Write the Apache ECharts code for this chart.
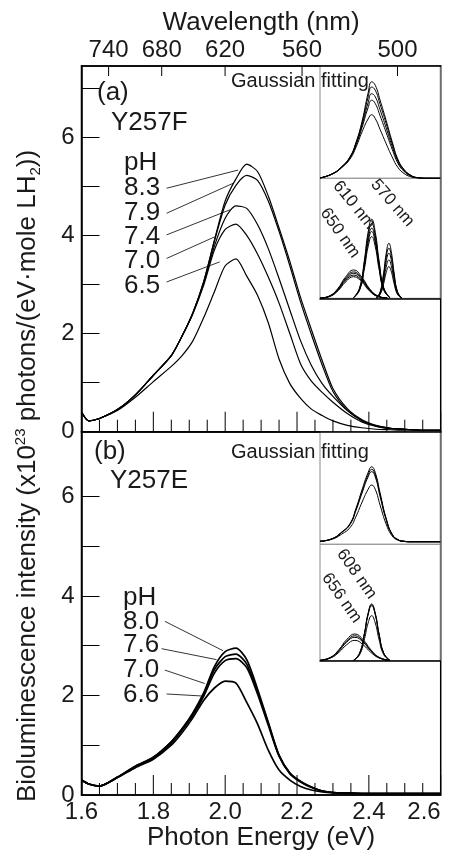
<!DOCTYPE html>
<html><head><meta charset="utf-8">
<script src="https://cdn.jsdelivr.net/npm/echarts@6/dist/echarts.min.js"></script>
<style>html,body{margin:0;padding:0;background:#fff}#c{width:455px;height:855px}</style>
</head><body><div id="c"></div>
<script>
// ---------- data ----------
const energy = [1.60,1.62,1.65,1.70,1.75,1.80,1.85,1.88,1.91,1.94,1.97,2.00,2.03,2.06,2.09,2.12,2.15,2.18,2.21,2.24,2.27,2.30,2.34,2.38,2.42,2.46,2.50,2.55,2.60];
const pH_F = ['8.3','7.9','7.4','7.0','6.5'];
const F83 = [0.40,0.22,0.27,0.45,0.75,1.15,1.55,1.95,2.42,3.05,3.90,4.70,5.15,5.45,5.30,4.80,4.15,3.47,2.73,2.08,1.45,0.88,0.47,0.25,0.13,0.07,0.05,0.03,0.03];
const F79 = [0.40,0.22,0.27,0.45,0.75,1.15,1.55,1.95,2.42,3.05,3.88,4.62,5.02,5.22,5.12,4.70,4.08,3.38,2.64,1.98,1.36,0.82,0.44,0.23,0.12,0.07,0.05,0.03,0.03];
const F74 = [0.40,0.22,0.27,0.45,0.75,1.15,1.55,1.95,2.42,3.02,3.78,4.35,4.60,4.55,4.22,3.73,3.12,2.48,1.85,1.35,0.98,0.72,0.43,0.23,0.12,0.07,0.05,0.03,0.03];
const F70 = [0.40,0.22,0.27,0.45,0.75,1.15,1.55,1.95,2.40,2.98,3.70,4.12,4.23,4.00,3.62,3.15,2.62,2.00,1.38,1.03,0.80,0.60,0.37,0.20,0.11,0.06,0.05,0.03,0.03];
const F65 = [0.40,0.22,0.27,0.43,0.70,1.02,1.33,1.55,1.85,2.32,2.85,3.38,3.52,3.17,2.78,2.22,1.48,0.98,0.68,0.46,0.33,0.22,0.13,0.08,0.05,0.04,0.03,0.03,0.03];
const pH_E = ['8.0','7.6','7.0','6.6'];
const E80 = [0.30,0.22,0.18,0.36,0.58,0.76,1.07,1.33,1.65,2.05,2.58,2.88,2.95,2.72,2.13,1.46,0.80,0.44,0.27,0.16,0.08,0.05,0.04,0.03,0.03,0.03,0.03,0.03,0.03];
const E76 = [0.30,0.22,0.18,0.36,0.58,0.76,1.07,1.33,1.63,2.02,2.52,2.78,2.83,2.63,2.08,1.44,0.79,0.44,0.27,0.16,0.08,0.05,0.04,0.03,0.03,0.03,0.03,0.03,0.03];
const E70 = [0.30,0.22,0.18,0.35,0.56,0.74,1.04,1.30,1.60,1.98,2.45,2.70,2.74,2.56,2.03,1.40,0.78,0.43,0.26,0.15,0.08,0.05,0.04,0.03,0.03,0.03,0.03,0.03,0.03];
const E66 = [0.30,0.22,0.18,0.35,0.55,0.72,1.00,1.25,1.55,1.90,2.15,2.29,2.25,1.86,1.43,0.90,0.50,0.30,0.17,0.10,0.06,0.04,0.03,0.03,0.03,0.03,0.03,0.03,0.03];

const wavelengthTicks = [740,680,620,560,500];
const xMajorTicks = [1.6,1.8,2.0,2.2,2.4,2.6];
const xMinorTicks = [1.65,1.70,1.75,1.85,1.90,1.95,2.05,2.10,2.15,2.25,2.30,2.35,2.45,2.50,2.55];
const yTicksTop = [0,1,2,3,4,5,6,7];
const yTicksBottom = [0,1,2,3,4,5,6];
const yLabels = [0,2,4,6];

// leader lines [E1, v1, E2, v2]
const leadersF = [[1.837,4.96,2.036,5.33],[1.837,4.45,2.022,5.06],[1.837,4.01,2.013,4.52],[1.837,3.53,1.971,3.97],[1.837,3.05,1.985,3.46]];
const leadersE = [[1.832,3.49,1.994,2.90],[1.823,2.94,1.976,2.72],[1.832,2.51,1.943,2.24],[1.837,2.03,1.934,1.99]];

// insets: Gaussian fitting sums
const insetE = [1.60,1.70,1.78,1.85,1.90,1.95,2.00,2.03,2.06,2.10,2.15,2.20,2.25,2.30,2.35,2.40,2.50,2.60];
const fitF = [
  [0.02,0.25,0.65,1.23,2.05,3.25,4.85,5.50,5.30,4.45,3.30,2.10,1.05,0.50,0.20,0.05,0,0],
  [0.02,0.25,0.65,1.22,2.02,3.15,4.62,5.20,5.02,4.22,3.13,1.99,1.00,0.47,0.19,0.05,0,0],
  [0.02,0.24,0.64,1.20,1.96,3.02,4.30,4.82,4.64,3.90,2.88,1.83,0.92,0.43,0.17,0.04,0,0],
  [0.02,0.24,0.63,1.17,1.90,2.90,4.02,4.45,4.26,3.56,2.62,1.66,0.83,0.39,0.15,0.04,0,0],
  [0.02,0.23,0.60,1.10,1.78,2.65,3.38,3.62,3.40,2.78,1.98,1.22,0.60,0.27,0.10,0.03,0,0]
];
const fitE = [
  [0.02,0.12,0.38,0.72,1.32,2.05,2.72,2.95,2.72,1.92,0.93,0.30,0.08,0.02,0,0,0,0],
  [0.02,0.12,0.37,0.70,1.28,1.98,2.63,2.85,2.63,1.84,0.90,0.29,0.08,0.02,0,0,0,0],
  [0.02,0.11,0.36,0.68,1.24,1.92,2.55,2.76,2.55,1.78,0.87,0.28,0.07,0.02,0,0,0,0],
  [0.02,0.10,0.30,0.56,1.00,1.56,2.06,2.23,2.06,1.44,0.70,0.23,0.06,0.01,0,0,0,0]
];
// components
const compE650 = [1.60,1.68,1.75,1.81,1.88,1.95,2.01,2.08,2.16];
const comp650 = [
  [0.01,0.14,0.57,1.19,1.61,1.19,0.57,0.14,0.01],
  [0.01,0.13,0.53,1.11,1.50,1.11,0.53,0.13,0.01],
  [0.01,0.12,0.50,1.05,1.42,1.05,0.50,0.12,0.01],
  [0.01,0.11,0.46,0.98,1.32,0.98,0.46,0.11,0.01],
  [0.01,0.10,0.43,0.91,1.23,0.91,0.43,0.10,0.01]
];
const compE610 = [1.88,1.93,1.97,2.00,2.03,2.06,2.09,2.13,2.18];
const comp610 = [
  [0.05,0.60,2.20,3.75,4.50,3.75,2.20,0.60,0.05],
  [0.05,0.58,2.08,3.56,4.27,3.56,2.08,0.58,0.05],
  [0.04,0.54,1.94,3.33,3.99,3.33,1.94,0.54,0.04],
  [0.04,0.51,1.85,3.17,3.80,3.17,1.85,0.51,0.04],
  [0.04,0.47,1.71,2.93,3.51,2.93,1.71,0.47,0.04]
];
const compE570 = [2.07,2.10,2.13,2.15,2.173,2.195,2.215,2.245,2.28];
const comp570 = [
  [0.04,0.36,1.47,2.52,3.13,2.57,1.52,0.38,0.03],
  [0.04,0.32,1.34,2.30,2.85,2.34,1.39,0.34,0.03],
  [0.03,0.29,1.20,2.06,2.56,2.10,1.25,0.31,0.02],
  [0.03,0.25,1.02,1.76,2.18,1.79,1.06,0.26,0.02],
  [0.02,0.21,0.85,1.45,1.80,1.48,0.88,0.22,0.02]
];
const compE656 = [1.60,1.69,1.76,1.82,1.89,1.96,2.02,2.09,2.18];
const comp656 = [
  [0.02,0.14,0.45,0.82,1.05,0.82,0.45,0.14,0.02],
  [0.01,0.13,0.42,0.76,0.98,0.76,0.42,0.13,0.01],
  [0.01,0.12,0.40,0.72,0.92,0.72,0.40,0.12,0.01],
  [0.01,0.11,0.34,0.62,0.80,0.62,0.34,0.11,0.01]
];
const compE608 = [1.88,1.93,1.97,2.00,2.03,2.06,2.09,2.13,2.18];
const comp608 = [
  [0.02,0.30,1.09,1.86,2.23,1.86,1.09,0.30,0.02],
  [0.02,0.30,1.07,1.84,2.20,1.84,1.07,0.30,0.02],
  [0.02,0.29,1.05,1.80,2.16,1.80,1.05,0.29,0.02],
  [0.02,0.24,0.86,1.48,1.77,1.48,0.86,0.24,0.02]
];

// ---------- chart ----------
const FONT = '"Liberation Sans", Arial, Helvetica, sans-serif';
const TXT = '#1a1a1a';
const pair = (xs, ys) => xs.map((x, i) => [x, ys[i]]);
const chart = echarts.init(document.getElementById('c'), null, {renderer: 'canvas', width: 455, height: 855});

const L = 81.5, W = 359.2;
const H_TOP = 365.7, H_BOT = 363.3;
const Y_TOP_MAX = 7.45, Y_BOT_MAX = 7.3;
const grids = [
  {left: L, top: 66, width: W, height: H_TOP, show: true, borderColor: '#000', borderWidth: 1.5},
  {left: L, top: 431.7, width: W, height: H_BOT, show: true, borderColor: '#000', borderWidth: 1.5},
  {left: 320, top: 66, width: 120.2, height: 112.3},
  {left: 320, top: 178.3, width: 120.2, height: 120},
  {left: 320, top: 431.7, width: 120.2, height: 112.6},
  {left: 320, top: 544.3, width: 120.2, height: 116.4}
];
grids.slice(2).forEach(g => Object.assign(g, {show: true, backgroundColor: '#fff', borderColor: '#8a8a8a', borderWidth: 1}));
grids.forEach(g => { g.containLabel = false; g.outerBoundsMode = 'none'; });

const wlE = wavelengthTicks.map(w => 1239.84 / w);
const mainX = (gi, labels) => ({
  type: 'value', gridIndex: gi, min: 1.6, max: 2.6, interval: 0.2,
  axisLine: {show: true, onZero: false, lineStyle: {color: '#000', width: 1.5}},
  axisTick: {show: false}, minorTick: {show: false},
  splitLine: {show: false},
  axisLabel: {show: labels, fontSize: 24, fontFamily: FONT, color: TXT, margin: 5,
    alignMaxLabel: 'right', formatter: v => v.toFixed(1)},
  name: labels ? 'Photon Energy (eV)' : '', nameLocation: 'middle', nameGap: 26,
  nameTextStyle: {fontSize: 26, fontFamily: FONT, color: TXT}
});
const insetX = (gi, lower) => ({
  type: 'value', gridIndex: gi, min: 1.6, max: 2.6,
  axisLine: {show: lower, onZero: false, lineStyle: {color: '#000', width: 1.5}},
  axisTick: {show: false}, axisLabel: {show: false}, splitLine: {show: false}
});
const xAxes = [
  mainX(0, false),
  {
    type: 'value', gridIndex: 0, position: 'top', min: 1.6, max: 2.6,
    axisLine: {show: true, onZero: false, lineStyle: {color: '#000', width: 1.5}},
    axisTick: {show: false},
    axisLabel: {show: true, customValues: wlE, fontSize: 24, fontFamily: FONT, color: TXT, margin: 4,
      formatter: v => String(Math.round(1239.84 / v))},
    splitLine: {show: false},
    name: 'Wavelength (nm)', nameLocation: 'middle', nameGap: 30,
    nameTextStyle: {fontSize: 26, fontFamily: FONT, color: TXT}
  },
  mainX(1, true),
  insetX(2, false), insetX(3, true), insetX(4, false), insetX(5, true)
];
const mainY = (gi, max, ticks) => ({
  type: 'value', gridIndex: gi, min: 0, max: max,
  axisLine: {show: true, lineStyle: {color: '#000', width: 1.5}},
  axisTick: {show: true, inside: true, length: 18, customValues: ticks, lineStyle: {color: '#000', width: 1}},
  axisLabel: {show: true, customValues: yLabels, fontSize: 24, fontFamily: FONT, color: TXT, margin: 7},
  splitLine: {show: false}
});
const insetY = (gi, min, max) => ({type: 'value', gridIndex: gi, min: min, max: max, show: false, splitLine: {show: false}});
const yAxes = [
  mainY(0, Y_TOP_MAX, yTicksTop), mainY(1, Y_BOT_MAX, yTicksBottom),
  insetY(2, 0, 6.4), insetY(3, 0, 6.83), insetY(4, -0.1, 4.33), insetY(5, 0, 4.58)
];

const series = [];
function addLine(xs, ys, xi, yi, lw, smooth, leader) {
  const s = {
    type: 'line', xAxisIndex: xi, yAxisIndex: yi, data: pair(xs, ys),
    showSymbol: false, symbol: 'none', smooth: smooth,
    lineStyle: {color: '#000', width: lw}, silent: true
  };
  if (leader) {
    s.markLine = {silent: true, symbol: ['none', 'none'], animation: false,
      lineStyle: {color: '#000', width: 0.8, type: 'solid'}, label: {show: false},
      data: [[{coord: [leader[0], leader[1]]}, {coord: [leader[2], leader[3]]}]]};
  }
  series.push(s);
}
[F83, F79, F74, F70, F65].forEach((a, i) => addLine(energy, a, 0, 0, 1.2, 0.25, leadersF[i]));
[E80, E76, E70, E66].forEach((a, i) => addLine(energy, a, 2, 1, 1.7, 0.25, leadersE[i]));
fitF.forEach(a => addLine(insetE, a, 3, 2, 1, 0.5));
comp650.forEach(a => addLine(compE650, a, 4, 3, 1, 0.5));
comp610.forEach(a => addLine(compE610, a, 4, 3, 1, 0.5));
comp570.forEach(a => addLine(compE570, a, 4, 3, 1, 0.5));
fitE.forEach(a => addLine(insetE, a, 5, 4, 1, 0.5));
comp656.forEach(a => addLine(compE656, a, 6, 5, 1, 0.5));
comp608.forEach(a => addLine(compE608, a, 6, 5, 1, 0.5));

// x-axis tick marks drawn as broken line series through the axes' scales
function tickData(yMax, hPx, withTop) {
  const u = yMax / hPx;
  const d = [];
  const seg = (v, y0, y1) => { d.push([v, y0]); d.push([v, y1]); d.push([v, null]); };
  xMajorTicks.forEach(v => seg(v, 0, 20 * u));
  xMinorTicks.forEach(v => seg(v, 0, 12 * u));
  if (withTop) wlE.forEach(v => seg(v, yMax, yMax - 10 * u));
  return d;
}
[[0, 0, Y_TOP_MAX, H_TOP, true], [2, 1, Y_BOT_MAX, H_BOT, false]].forEach(t => {
  series.push({
    type: 'line', xAxisIndex: t[0], yAxisIndex: t[1], data: tickData(t[2], t[3], t[4]),
    showSymbol: false, symbol: 'none', connectNulls: false, smooth: false, clip: false,
    lineStyle: {color: '#000', width: 1}, silent: true, z: 8
  });
});

const txt = (x, y, t, size) => ({
  type: 'text', x: x, y: y, z: 20,
  style: {text: t, fontSize: size, fontFamily: FONT, fill: TXT, textAlign: 'left', textVerticalAlign: 'middle', verticalAlign: 'middle'}
});
const rot = (x, y, t, deg) => ({
  type: 'text', x: x, y: y, rotation: -deg * Math.PI / 180, z: 20,
  style: {text: t, fontSize: 17, fontFamily: FONT, fill: TXT, textAlign: 'center', textVerticalAlign: 'middle', verticalAlign: 'middle'}
});
const graphic = [
  txt(97, 93, '(a)', 26), txt(111, 123, 'Y257F', 26), txt(231, 81, 'Gaussian fitting', 20),
  txt(124, 163, 'pH', 26),
  ...pH_F.map((p, i) => txt(124, [188, 213, 237, 261, 286][i], p, 26)),
  txt(94, 452, '(b)', 26), txt(110, 481, 'Y257E', 26), txt(231, 452, 'Gaussian fitting', 20),
  txt(123, 598, 'pH', 26),
  ...pH_E.map((p, i) => txt(123, [622, 645, 670, 695][i], p, 26)),
  rot(354, 205, '610 nm', 51), rot(392.5, 203, '570 nm', 49), rot(340, 233, '650 nm', 55),
  rot(356.7, 574, '608 nm', 55), rot(341.7, 598, '656 nm', 55),
  {
    type: 'text', x: 28, y: 476, rotation: Math.PI / 2, z: 20,
    style: {
      text: '{a|Bioluminescence intensity (x10}{s|23}{a| photons/(eV·mole LH}{b|2}{a|))}',
      textAlign: 'center', textVerticalAlign: 'middle', verticalAlign: 'middle', fill: TXT,
      fontFamily: FONT, fontSize: 26,
      rich: {
        a: {fontSize: 26, fontFamily: FONT, fill: TXT, color: TXT, lineHeight: 30},
        s: {fontSize: 15, fontFamily: FONT, fill: TXT, color: TXT, verticalAlign: 'top', lineHeight: 30},
        b: {fontSize: 15, fontFamily: FONT, fill: TXT, color: TXT, verticalAlign: 'bottom', lineHeight: 30}
      }
    }
  }
];

chart.setOption({
  animation: false,
  backgroundColor: '#fff',
  grid: grids, xAxis: xAxes, yAxis: yAxes, series: series, graphic: graphic
});
</script></body></html>
